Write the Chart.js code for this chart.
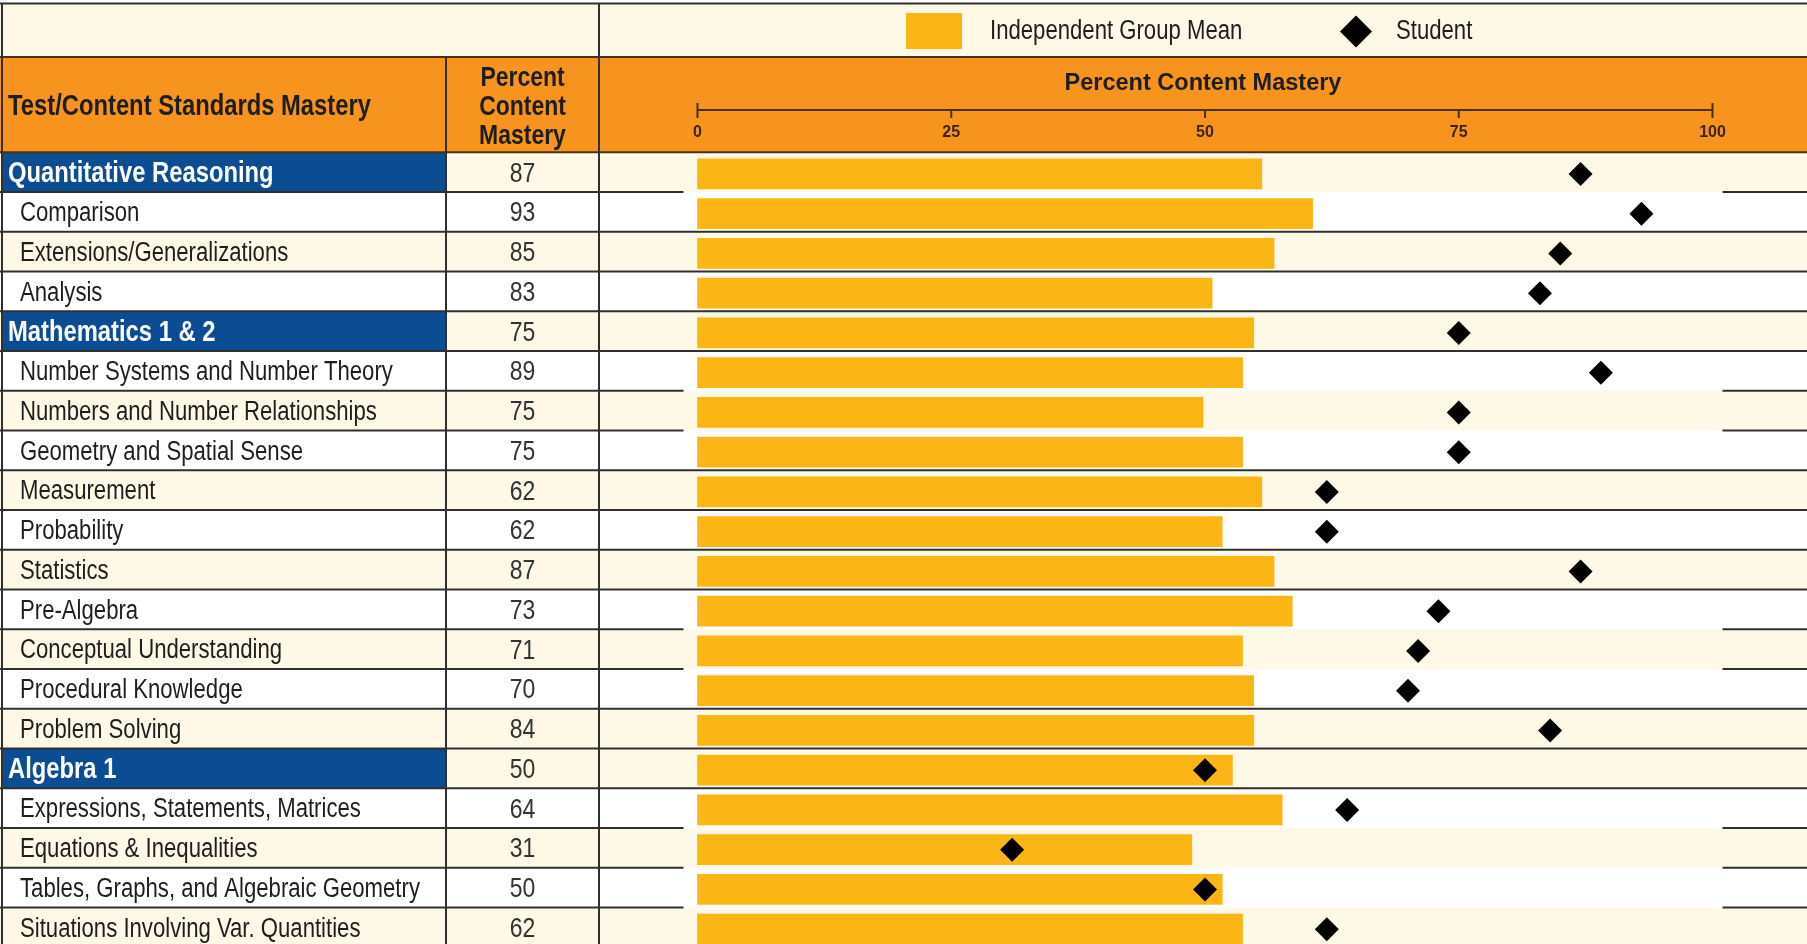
<!DOCTYPE html>
<html>
<head>
<meta charset="utf-8">
<title>Percent Content Mastery</title>
<script src="https://cdn.jsdelivr.net/npm/chart.js@4.4.1/dist/chart.umd.min.js"></script>
<style>
  html, body { margin: 0; padding: 0; background: #fff; overflow: hidden; }
  canvas { display: block; }
</style>
</head>
<body>
<canvas id="mastery" width="1807" height="949"></canvas>
<script>
// ── Datos ───────────────────────────────────────────────────────────────
const categories = [
  'Quantitative Reasoning', 'Comparison', 'Extensions/Generalizations', 'Analysis',
  'Mathematics 1 & 2', 'Number Systems and Number Theory', 'Numbers and Number Relationships',
  'Geometry and Spatial Sense', 'Measurement', 'Probability', 'Statistics', 'Pre-Algebra',
  'Conceptual Understanding', 'Procedural Knowledge', 'Problem Solving',
  'Algebra 1', 'Expressions, Statements, Matrices', 'Equations & Inequalities',
  'Tables, Graphs, and Algebraic Geometry', 'Situations Involving Var. Quantities',
];
const sectionRows = [0, 4, 15];
const groupMean = [55.6, 60.6, 56.8, 50.7, 54.8, 53.7, 49.8, 53.7, 55.6, 51.7,
                   56.8, 58.6, 53.7, 54.8, 54.8, 52.7, 57.6, 48.7, 51.7, 53.7];
const studentMastery = [87, 93, 85, 83, 75, 89, 75, 75, 62, 62,
                        87, 73, 71, 70, 84, 50, 64, 31, 50, 62];
const xTicks = [0, 25, 50, 75, 100];

// ── Estilo ──────────────────────────────────────────────────────────────
const COLORS = {
  cream:  '#fef8e6',
  orange: '#f7941e',
  blue:   '#0b4c92',
  bar:    '#fbb615',
  line:   '#303030',
  brown:  '#4b3118',
  text:   '#1e1e1e',
};
// filas crema (1) / blancas (0)
const ROW_CREAM = [1,0,1,0,1,0,1,0,1,0,1,0,1,0,1,1,0,1,0,1];
// bajo estas filas la línea sólo se ve en los bordes del panel
const BROKEN_BELOW = [0, 5, 6, 11, 12, 16, 17, 18];
const COL_LABEL = 2, COL_PCT = 446, COL_CHART = 599;
const ROW_SHIFT = 1.7;

function hasFont(name) {
  const c = document.createElement('canvas').getContext('2d');
  c.font = '40px monospace';
  const a = c.measureText('Mastery Reasoning').width;
  c.font = `40px "${name}", monospace`;
  return c.measureText('Mastery Reasoning').width !== a;
}
const NARROW = hasFont('Liberation Sans Narrow');
const FAMILY = NARROW ? '"Liberation Sans Narrow"' : '"Liberation Sans", Arial, sans-serif';
const SQUEEZE = NARROW ? 1 : 0.82;

function text(ctx, str, x, y, font, color, align) {
  ctx.save();
  ctx.font = font + ' ' + FAMILY;
  ctx.fillStyle = color;
  ctx.textAlign = align || 'left';
  ctx.textBaseline = 'middle';
  ctx.translate(x, y);
  ctx.scale(SQUEEZE, 1);
  ctx.fillText(str, 0, 0);
  ctx.restore();
}

function hline(ctx, x1, x2, y, color) {
  ctx.beginPath();
  ctx.moveTo(x1, y);
  ctx.lineTo(x2, y);
  ctx.strokeStyle = color || COLORS.line;
  ctx.lineWidth = 2;
  ctx.stroke();
}
function vline(ctx, x, y1, y2, color) {
  ctx.beginPath();
  ctx.moveTo(x, y1);
  ctx.lineTo(x, y2);
  ctx.strokeStyle = color || COLORS.line;
  ctx.lineWidth = 2;
  ctx.stroke();
}

// Tabla, cabecera y leyenda alrededor del gráfico
const tablePlugin = {
  id: 'masteryTable',
  beforeDraw(chart) {
    const { ctx, width: W, height: H, scales: { y } } = chart;
    const rowH = y.height / categories.length;
    const rowTop = i => y.getPixelForValue(i) - rowH / 2 - ROW_SHIFT;
    ctx.save();
    ctx.fillStyle = '#fff';
    ctx.fillRect(0, 0, W, H);
    ctx.fillStyle = COLORS.cream;
    ctx.fillRect(0, 4, W, 53);
    ctx.fillStyle = COLORS.orange;
    ctx.fillRect(0, 57, W, rowTop(0) - 57);
    categories.forEach((_, i) => {
      ctx.fillStyle = ROW_CREAM[i] ? COLORS.cream : '#fff';
      ctx.fillRect(0, rowTop(i), W, rowH);
      if (sectionRows.includes(i)) {
        ctx.fillStyle = COLORS.blue;
        ctx.fillRect(COL_LABEL, rowTop(i), COL_PCT - COL_LABEL, rowH);
      }
    });
    ctx.restore();
  },
  beforeDatasetsDraw(chart) {
    const { ctx, width: W, height: H, scales: { x, y } } = chart;
    const rowH = y.height / categories.length;
    const rowTop = i => y.getPixelForValue(i) - rowH / 2 - ROW_SHIFT;
    const edgeL = x.getPixelForValue(0) - 14;
    const edgeR = x.getPixelForValue(100) + 10;
    ctx.save();

    // líneas de la tabla
    hline(ctx, 0, W, 3.5);
    hline(ctx, 0, W, 57, COLORS.brown);
    hline(ctx, 0, W, rowTop(0), COLORS.brown);
    for (let i = 0; i < categories.length; i++) {
      const yy = rowTop(i) + rowH;
      hline(ctx, 0, COL_CHART, yy);
      if (BROKEN_BELOW.includes(i)) {
        hline(ctx, COL_CHART, edgeL, yy);
        hline(ctx, edgeR, W, yy);
      } else {
        hline(ctx, COL_CHART, W, yy);
      }
    }
    vline(ctx, COL_LABEL, 3, H);
    vline(ctx, COL_PCT, 57, H);
    vline(ctx, COL_CHART, 3, H);

    // cabeceras de columnas
    text(ctx, 'Test/Content Standards Mastery', 8, 107, 'bold 29px', COLORS.text);
    const pctX = (COL_PCT + COL_CHART) / 2;
    ['Percent', 'Content', 'Mastery'].forEach((w, k) =>
      text(ctx, w, pctX, 78 + k * 29, 'bold 28px', COLORS.text, 'center'));

    // filas
    categories.forEach((name, i) => {
      const cy = y.getPixelForValue(i);
      if (sectionRows.includes(i)) {
        text(ctx, name, 8, cy, 'bold 29px', '#fff');
      } else {
        text(ctx, name, 20, cy, '27px', COLORS.text);
      }
      text(ctx, String(studentMastery[i]), pctX, cy, '28px', '#333', 'center');
    });

    // eje superior con marcas
    const axY = 110;
    ctx.strokeStyle = COLORS.brown;
    ctx.lineWidth = 2;
    ctx.beginPath();
    ctx.moveTo(x.getPixelForValue(xTicks[0]), axY);
    ctx.lineTo(x.getPixelForValue(xTicks[xTicks.length - 1]), axY);
    x.ticks.forEach((t, k) => {
      const px = x.getPixelForValue(t.value);
      const end = k === 0 || k === x.ticks.length - 1;
      ctx.moveTo(px, end ? 103 : axY);
      ctx.lineTo(px, 118);
    });
    ctx.stroke();

    // leyenda
    const [student, mean] = chart.data.datasets;
    ctx.fillStyle = mean.backgroundColor;
    ctx.fillRect(906, 13, 56, 36);
    text(ctx, mean.label, 990, 32, '27px', COLORS.text);
    ctx.fillStyle = student.backgroundColor;
    ctx.beginPath();
    ctx.moveTo(1340, 31.5);
    ctx.lineTo(1356, 15.5);
    ctx.lineTo(1372, 31.5);
    ctx.lineTo(1356, 47.5);
    ctx.closePath();
    ctx.fill();
    text(ctx, student.label, 1396, 32, '27px', COLORS.text);

    ctx.restore();
  },
};

new Chart(document.getElementById('mastery'), {
  type: 'bar',
  data: {
    labels: categories,
    datasets: [
      {
        type: 'line',
        label: 'Student',
        data: studentMastery,
        indexAxis: 'y',
        showLine: false,
        pointStyle: 'rectRot',
        pointRadius: 12,
        pointHoverRadius: 12,
        pointBorderWidth: 0,
        backgroundColor: '#000',
        borderColor: '#000',
        order: 0,
      },
      {
        label: 'Independent Group Mean',
        data: groupMean,
        backgroundColor: COLORS.bar,
        barThickness: 30,
        order: 1,
      },
    ],
  },
  options: {
    indexAxis: 'y',
    responsive: false,
    animation: false,
    events: [],
    layout: { autoPadding: false, padding: { top: 57, left: COL_CHART, right: 0, bottom: 0 } },
    plugins: { legend: { display: false }, tooltip: { enabled: false } },
    scales: {
      x: {
        type: 'linear',
        position: 'top',
        min: -9.704,
        max: 109.31,
        afterBuildTicks: s => { s.ticks = xTicks.map(v => ({ value: v })); },
        afterFit: s => { s.height = 97; },
        grid: { display: false, drawTicks: false },
        border: { display: false },
        ticks: {
          padding: 12,
          color: '#3b2410',
          font: { family: 'Liberation Sans', size: 16, weight: 'bold' },
        },
        title: {
          display: true,
          text: 'Percent Content Mastery',
          color: COLORS.text,
          padding: { top: 12, bottom: 0 },
          font: NARROW
            ? { family: 'Liberation Sans Narrow', size: 28, weight: 'bold' }
            : { family: 'Liberation Sans', size: 23.5, weight: 'bold' },
        },
      },
      y: { type: 'category', display: false, offset: true },
    },
  },
  plugins: [tablePlugin],
});
</script>
</body>
</html>
